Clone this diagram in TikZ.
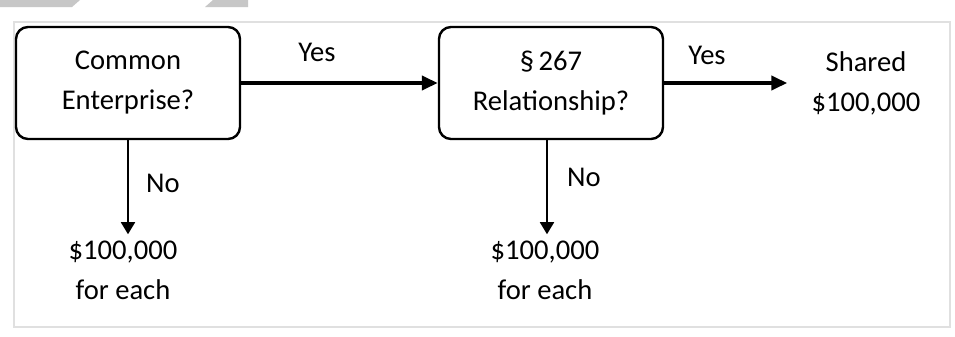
\documentclass[tikz,border=0pt]{standalone}
\usepackage{fontspec}
\setmainfont{Carlito}
\usetikzlibrary{arrows.meta, calc}

\begin{document}
\begin{tikzpicture}[x=0.5pt, y=-0.5pt]
    % Define display style
    \tikzstyle{question}=[draw, rounded corners=6pt, line width=1.2pt, minimum width=112pt, minimum height=56pt, align=center, font=\fontsize{14.3}{20}\selectfont]
    \tikzstyle{result}=[align=center, inner sep=1pt, font=\fontsize{14.3}{20}\selectfont]
    \tikzstyle{answer}=[inner sep=0pt, font=\fontsize{14.3}{20}\selectfont]
    \tikzstyle{yesarrow}=[line width=2pt, -{Triangle[length=8pt, width=7pt]}]
    \tikzstyle{noarrow}=[line width=0.9pt, -{Triangle[length=6pt, width=7pt]}]

    % Define coordinates
    \newcommand\RowY{83}
    \newcommand\ResY{270}

    % Fix the page and draw the frame
    \useasboundingbox[fill=white] (0,0) rectangle (955,337);
    \fill[black!22] (0,0) -- (80,0) -- (72,7) -- (0,7) -- cycle;
    \fill[black!22] (205,7) -- (213,0) -- (248,0) -- (248,7) -- cycle;
    \draw[black!12, line width=0.8pt] (14,22) rectangle (950,327);

    % Draw the questions
    \node[question] (enterprise) at (128,\RowY) {Common\\Enterprise?};
    \node[question] (relation) at (551,\RowY) {\S\,267\\Relationship?};

    % Draw the outcomes
    \node[result] (shared) at (866,\RowY) {Shared\\\$100,000};
    \node[result] (eachA) at (123,\ResY) {\$100,000\\for each};
    \node[result] (eachB) at (545,\ResY) {\$100,000\\for each};

    % Draw the labels
    \node[answer] (yesA) at (317,52) {Yes};
    \node[answer] (yesB) at (707,55) {Yes};
    \node[answer] (noA) at (163,183) {No};
    \node[answer] (noB) at (584,177) {No};

    % Draw the arrows
    \draw[yesarrow] (enterprise.east) -- (relation.west);
    \draw[yesarrow] (relation.east) -- ([xshift=-11pt]shared.west);
    \draw[noarrow] (enterprise.south) -- ($(enterprise.south |- eachA.north)+(0,-4)$);
    \draw[noarrow] ([xshift=-2pt]relation.south) -- ($([xshift=-2pt]relation.south |- eachB.north)+(0,-4)$);
\end{tikzpicture}
\end{document}
